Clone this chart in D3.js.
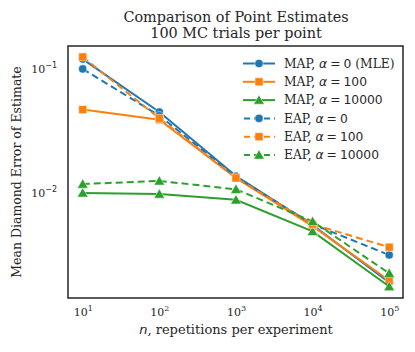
<!DOCTYPE html>
<html><head><meta charset="utf-8">
<script src="https://cdn.jsdelivr.net/npm/d3@7"></script>
<style>body{margin:0;background:#fff}svg{display:block}text{font-family:"DejaVu Serif",serif;fill:#262626}</style>
</head><body><svg id="c" width="415" height="352"></svg>
<script>
const nValues = [10, 100, 1000, 10000, 100000];
const xTicks = [1, 2, 3, 4, 5];
const yTicks = [-1, -2];
const mapAlpha0 = [0.12, 0.045, 0.0137, 0.0055, 0.0019];
const mapAlpha100 = [0.047, 0.039, 0.0132, 0.0054, 0.00197];
const mapAlpha10000 = [0.0100, 0.0098, 0.0088, 0.0049, 0.00176];
const eapAlpha0 = [0.100, 0.042, 0.0135, 0.0056, 0.00316];
const eapAlpha100 = [0.125, 0.040, 0.0132, 0.0056, 0.00365];
const eapAlpha10000 = [0.0118, 0.0125, 0.0107, 0.0059, 0.00225];
const seriesNames = ["MAP, α = 0 (MLE)", "MAP, α = 100", "MAP, α = 10000", "EAP, α = 0", "EAP, α = 100", "EAP, α = 10000"];
const titleLines = ["Comparison of Point Estimates", "100 MC trials per point"];

const series = [
  {pre:"MAP, ", num:"0", post:" (MLE)", v:mapAlpha0, c:"#1f77b4", m:"circle", dash:null},
  {pre:"MAP, ", num:"100", post:"", v:mapAlpha100, c:"#ff7f0e", m:"square", dash:null},
  {pre:"MAP, ", num:"10000", post:"", v:mapAlpha10000, c:"#2ca02c", m:"triangle", dash:null},
  {pre:"EAP, ", num:"0", post:"", v:eapAlpha0, c:"#1f77b4", m:"circle", dash:"7,4"},
  {pre:"EAP, ", num:"100", post:"", v:eapAlpha100, c:"#ff7f0e", m:"square", dash:"7,4"},
  {pre:"EAP, ", num:"10000", post:"", v:eapAlpha10000, c:"#2ca02c", m:"triangle", dash:"7,4"}
];

const svg = d3.select("#c");
const L=68,R=403,T=46,B=298;
const x = d3.scaleLog().domain([Math.pow(10,0.808), Math.pow(10,5.18)]).range([L,R]);
const y = d3.scaleLog().domain([Math.pow(10,-2.847), Math.pow(10,-0.815)]).range([B,T]);

// title
svg.selectAll("text.title").data(titleLines).enter().append("text")
  .attr("x",236).attr("y",(d,i)=>21.5+i*16).attr("text-anchor","middle").attr("font-size",14.4).text(d=>d);

// axes
const gx = svg.append("g").attr("transform",`translate(0,${B})`)
  .call(d3.axisBottom(x).tickValues(xTicks.map(e=>Math.pow(10,e))).tickSize(0).tickPadding(0).tickFormat(""));
gx.select(".domain").remove();
gx.selectAll(".tick").each(function(d){
  const t=d3.select(this).append("text").attr("y",18).attr("text-anchor","middle").attr("font-size",11).attr("fill","#262626");
  t.append("tspan").text("10");
  t.append("tspan").attr("dy",-5).attr("font-size",8).text(String(Math.round(Math.log10(d))));
});
const gy = svg.append("g").attr("transform",`translate(${L},0)`)
  .call(d3.axisLeft(y).tickValues(yTicks.map(e=>Math.pow(10,e))).tickSize(0).tickPadding(0).tickFormat(""));
gy.select(".domain").remove();
gy.selectAll(".tick").each(function(d){
  const t=d3.select(this).append("text").attr("x",-11).attr("y",4).attr("text-anchor","end").attr("font-size",11).attr("fill","#262626");
  t.append("tspan").text("10");
  t.append("tspan").attr("dy",-5).attr("font-size",8).attr("font-family","DejaVu Sans").text("−"+String(Math.round(-Math.log10(d))));
});

// axis labels
const xl = svg.append("text").attr("x",236).attr("y",334).attr("text-anchor","middle").attr("font-size",13);
xl.append("tspan").attr("font-style","italic").attr("font-family","DejaVu Sans").text("n");
xl.append("tspan").text(", repetitions per experiment");
svg.append("text").attr("transform",`translate(21,${(T+B)/2}) rotate(-90)`).attr("text-anchor","middle").attr("font-size",12.5).text("Mean Diamond Error of Estimate");

// clip
svg.append("clipPath").attr("id","clip").append("rect").attr("x",L).attr("y",T).attr("width",R-L).attr("height",B-T);

function marker(g, type, cx, cy, color){
  let sym;
  if(type==="circle") sym=d3.symbol(d3.symbolCircle,52);
  else if(type==="square") sym=d3.symbol(d3.symbolSquare,64);
  else sym=d3.symbol(d3.symbolTriangle,50);
  g.append("path").attr("d",sym()).attr("transform",`translate(${cx},${cy+(type==="triangle"?1:0)})`)
    .attr("fill",color).attr("stroke","#fff").attr("stroke-opacity",0.6).attr("stroke-width",0.8);
}

const plot = svg.append("g").attr("clip-path","url(#clip)");
const line = d3.line().x((d,i)=>x(nValues[i])).y(d=>y(d));
series.forEach(s=>{
  const g = plot.append("g");
  g.append("path").attr("d",line(s.v)).attr("fill","none").attr("stroke",s.c).attr("stroke-width",2)
    .attr("stroke-dasharray",s.dash);
  s.v.forEach((v,i)=>marker(g,s.m,x(nValues[i]),y(v),s.c));
});

// frame
svg.append("rect").attr("x",L).attr("y",T).attr("width",R-L).attr("height",B-T)
  .attr("fill","none").attr("stroke","#262626").attr("stroke-width",1.5);

// legend
const lg = svg.append("g");
series.forEach((s,i)=>{
  const yy = 63.5 + i*18.3;
  lg.append("line").attr("x1",243).attr("x2",275).attr("y1",yy).attr("y2",yy)
    .attr("stroke",s.c).attr("stroke-width",2).attr("stroke-dasharray",s.dash?"6,4":null)
    .attr("stroke-dashoffset",s.dash?-1:0);
  marker(lg,s.m,259,yy,s.c);
  const t = lg.append("text").attr("x",284).attr("y",yy+4.3).attr("font-size",12.3);
  t.append("tspan").text(s.pre);
  t.append("tspan").attr("font-style","italic").attr("font-family","DejaVu Sans").text("α");
  t.append("tspan").attr("font-family","DejaVu Sans").attr("dx",3).text("=");
  t.append("tspan").attr("font-family","DejaVu Sans").attr("dx",3).text(s.num);
  if(s.post) t.append("tspan").text(s.post);
});
</script></body></html>
